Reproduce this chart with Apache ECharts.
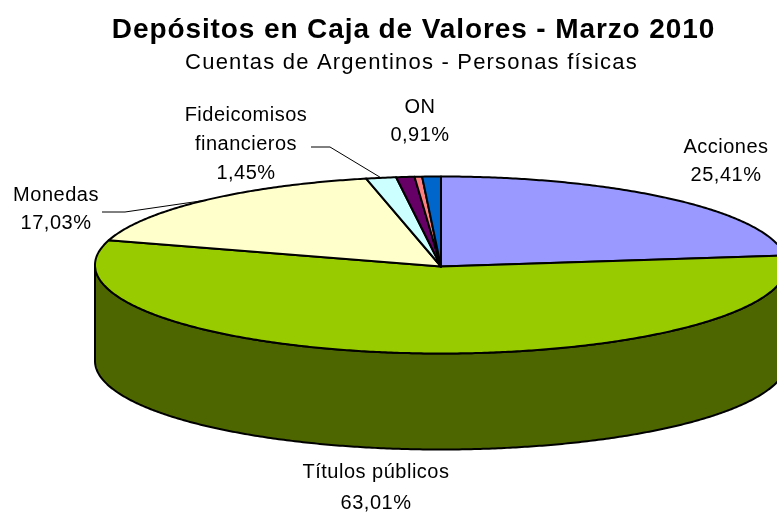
<!DOCTYPE html>
<html><head><meta charset="utf-8">
<style>html,body{margin:0;padding:0;background:#fff}#c{width:777px;height:512px}</style>
<script src="https://cdn.jsdelivr.net/npm/echarts@6/dist/echarts.min.js"></script>
</head><body><div id="c"></div>
<script>
// Slices clockwise from 12 o'clock
const categories = ['Acciones','Títulos públicos','Monedas','Fideicomisos financieros','ON','Otros 1','Otros 2'];
// Printed labels, as they read on the picture
const printedLabels = ['25,41%','63,01%','17,03%','1,45%','0,91%','',''];
// Slice sizes as drawn in the picture (the printed percentages add up to more than 100)
const drawnShares = [23.3,56.2,17.03,1.4,0.85,0.35,0.87];
const colors = ['#9999ff','#99cc00','#ffffcc','#ccffff','#660066','#ff8080','#0066cc'];
const wallColors = ['#4d4d80','#4d6600','#808066','#668080','#330033','#804040','#003366'];

// Wide text tracking of the original, keyed on the font in use
const tracking = [[/bold 28px/,'0.9px'],[/22px/,'1.2px'],[/20px/,'0.5px']];
const nativeFill = CanvasRenderingContext2D.prototype.fillText;
CanvasRenderingContext2D.prototype.fillText = function(t,x,y,m){
  const hit = tracking.find(r=>r[0].test(this.font));
  this.letterSpacing = hit ? hit[1] : '0px';
  return m===undefined ? nativeFill.call(this,t,x,y) : nativeFill.call(this,t,x,y,m);
};

const P = {cx:441, cy:265, rx:346, ry:88.5, depth:96, apexDy:1.5};
const total = drawnShares.reduce((a,b)=>a+b,0);
const spans = []; let acc = 0;
drawnShares.forEach(v=>{ const a0 = acc/total*360; acc += v; spans.push([a0, acc/total*360]); });
const pt = (deg,dy=0)=>{ const r=deg*Math.PI/180; return [P.cx+P.rx*Math.sin(r), P.cy-P.ry*Math.cos(r)+dy]; };
const arc = (a0,a1,dy=0)=>{ const out=[]; const n=Math.max(2,Math.ceil(Math.abs(a1-a0)*2)); for(let i=0;i<=n;i++) out.push(pt(a0+(a1-a0)*i/n,dy)); return out; };

function renderWall(params){
  const [a0,a1]=spans[params.dataIndex];
  const s=Math.max(a0,90), e=Math.min(a1,270);
  if(e<=s) return {type:'group',children:[]};
  const pts=arc(s,e,0).concat(arc(e,s,P.depth));
  return {type:'polygon',shape:{points:pts},style:{fill:wallColors[params.dataIndex],stroke:'#000',lineWidth:2,lineJoin:'round'}};
}
function renderTop(params){
  const [a0,a1]=spans[params.dataIndex];
  const pts=[[P.cx,P.cy+P.apexDy]].concat(arc(a0,a1));
  return {type:'polygon',shape:{points:pts},style:{fill:colors[params.dataIndex],stroke:'#000',lineWidth:2,lineJoin:'round'}};
}
const seat = [
 {lines:['Acciones'],v:0,x:726,y:[147,175]},
 {lines:['Títulos públicos'],v:1,x:376,y:[472,503]},
 {lines:['Monedas'],v:2,x:56,y:[195,223]},
 {lines:['Fideicomisos','financieros'],v:3,x:246,y:[115,144,173]},
 {lines:['ON'],v:4,x:420,y:[107,135]}
];
const graphicEls = [];
seat.forEach(s=>{
  s.lines.concat([printedLabels[s.v]]).forEach((t,i)=>{
    graphicEls.push({type:'text',x:s.x,y:s.y[i],style:{text:t,fill:'#000',font:'20px "Liberation Sans"',textAlign:'center',textVerticalAlign:'middle'},z:10});
  });
});
const mid = i=>(spans[i][0]+spans[i][1])/2;
const leader = (start,knee,i)=>({type:'polyline',shape:{points:[start,knee,pt(mid(i))]},style:{stroke:'#000',lineWidth:1,fill:null},z:10});
graphicEls.push(leader([311,147],[330,147],3));
graphicEls.push(leader([102,212],[125,212],2));

const chart = echarts.init(document.getElementById('c'));
chart.setOption({
  animation:false,
  backgroundColor:'#fff',
  title:[
    {text:'Depósitos en Caja de Valores - Marzo 2010',left:408.5,top:11,textAlign:'center',textStyle:{fontFamily:'Liberation Sans',fontWeight:'bold',fontSize:28,color:'#000'}},
    {text:'Cuentas de Argentinos - Personas físicas',left:406.5,top:47,textAlign:'center',textStyle:{fontFamily:'Liberation Sans',fontWeight:'normal',fontSize:22,color:'#000'}}
  ],
  graphic:graphicEls,
  series:[
    {type:'custom',coordinateSystem:'none',renderItem:renderWall,data:drawnShares,silent:true,z:1},
    {type:'custom',coordinateSystem:'none',renderItem:renderTop,data:drawnShares,silent:true,z:2}
  ]
});
</script></body></html>
